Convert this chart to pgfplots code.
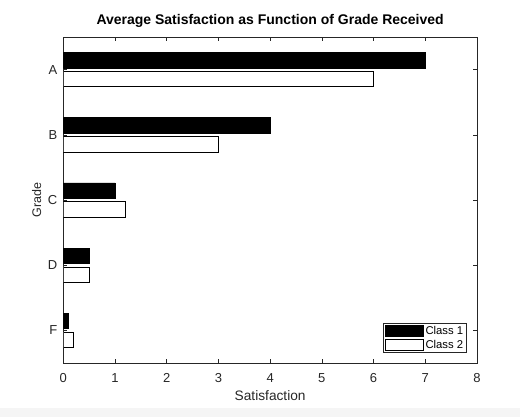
\documentclass[border=0pt]{standalone}
\usepackage{pgfplots}
\pgfplotsset{compat=1.18}
\usepackage{fontspec}
\setmainfont{Liberation Sans}
\definecolor{axgray}{RGB}{38,38,38}

\begin{document}
\begin{tikzpicture}
\path[use as bounding box] (-63.3bp,-54bp) rectangle (456.7bp,363bp);
\fill[black!4] (-63.3bp,-54bp) rectangle (456.7bp,-45bp);
\begin{axis}[
	scale only axis,
	width=413.7bp, height=326bp,
	xmin=0, xmax=8,
	ymin=0.5, ymax=5.5,
	y dir=reverse,
	xtick={0,1,...,8},
	ytick={1,2,3,4,5},
	yticklabels={A,B,C,D,F},
	xbar,
	bar width=0.235,
	axis line style={axgray, line width=0.6bp},
	tick style={axgray, line width=0.6bp},
	major tick length=4bp,
	tick align=inside,
	ticklabel style={font=\fontsize{13bp}{15bp}\selectfont, text=axgray},
	/pgf/number format/assume math mode=true,
	xticklabel style={anchor=base, yshift=-19bp},
	yticklabel style={anchor=east, xshift=-2.5bp},
	title={\bfseries Average Satisfaction as Function of Grade Received},
	title style={font=\fontsize{14bp}{16bp}\selectfont, at={(axis description cs:0.5,1)}, anchor=base, yshift=7bp},
	xlabel={Satisfaction},
	ylabel={Grade},
	xlabel style={font=\fontsize{13.7bp}{16bp}\selectfont, text=axgray, at={(axis description cs:0.5,0)}, anchor=base, yshift=-37.7bp},
	ylabel style={font=\fontsize{12.5bp}{14bp}\selectfont, text=axgray, at={(axis description cs:-0.0643,0.5)}, anchor=center},
	legend style={at={(1,0)}, anchor=south east, xshift=-10bp, yshift=10bp,
		font=\fontsize{11.3bp}{13bp}\selectfont, draw=axgray, line width=0.6bp,
		inner xsep=1.5bp, inner ysep=1bp, row sep=0bp, cells={anchor=west}},
	legend image code/.code={\draw[#1, line width=0.6bp] (0bp,-5.5bp) rectangle (38bp,5.5bp);},
	legend cell align=left,
]
\addplot[bar shift=-0.145, fill=black, draw=black, line width=0.6bp]
	coordinates {(7,1) (4,2) (1,3) (0.5,4) (0.1,5)};
\addlegendentry{Class 1}
\addplot[bar shift=0.145, fill=white, draw=black, line width=0.6bp]
	coordinates {(6,1) (3,2) (1.2,3) (0.5,4) (0.2,5)};
\addlegendentry{Class 2}
\end{axis}
\end{tikzpicture}
\end{document}
